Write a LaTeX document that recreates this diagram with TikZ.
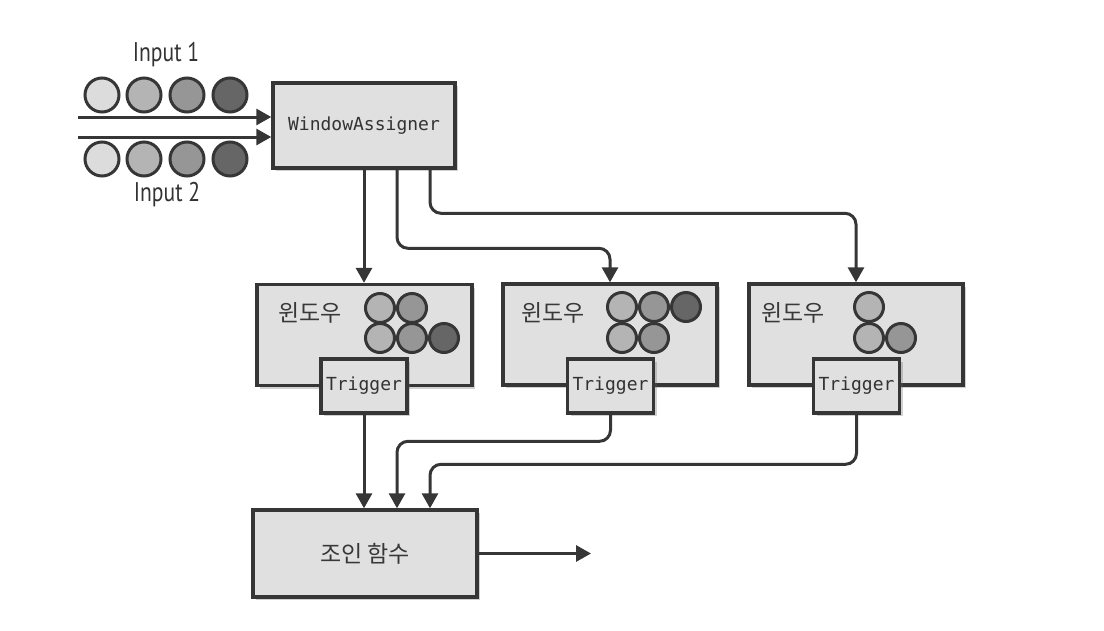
\documentclass[tikz,border=0pt]{standalone}
\usepackage{fontspec}
\setmainfont{PT Sans}
\newfontfamily\condfont[FakeStretch=0.8]{PT Sans}
\newfontfamily\monofont{DejaVu Sans Mono}
\newfontfamily\krfont{Noto Sans CJK KR}
\usetikzlibrary{arrows.meta,calc,shadows}
\definecolor{edge}{HTML}{363636}
\definecolor{boxfill}{HTML}{E0E0E0}
\definecolor{shA}{HTML}{DCDCDC}
\definecolor{shB}{HTML}{B4B4B4}
\definecolor{shC}{HTML}{969696}
\definecolor{shD}{HTML}{666666}
\tikzset{
  box/.style={draw=edge, fill=boxfill, line width=3.4pt, inner sep=0pt,
    drop shadow={shadow xshift=3pt, shadow yshift=-3pt, opacity=0.3, fill=black!60}},
  conn/.style={draw=edge, line width=3pt, rounded corners=11pt,
    -{Triangle[length=15pt,width=16pt]}},
  ball/.style={circle, draw=edge, line width=3pt, inner sep=0pt, minimum size=#1},
  ball/.default=34pt,
  lbl/.style={font=\condfont\fontsize{27}{30}\selectfont, text=black!80},
  mono/.style={font=\monofont\fontsize{18}{20}\selectfont, text=black!80},
  kr/.style={font=\krfont\fontsize{23}{26}\selectfont, text=black!78},
}
\begin{document}
\begin{tikzpicture}[x=1pt, y=-1pt]
\useasboundingbox (0,0) rectangle (1104,630);

% input streams
\node[lbl] (lab1) at (166,55) {Input 1};
\node[lbl] (lab2) at (167,195) {Input 2};
\foreach \cx/\col [count=\i] in {102/shA,144/shB,187/shC,230/shD}{
  \node[ball, fill=\col] (ia\i) at (\cx,95) {};
  \node[ball, fill=\col] (ib\i) at (\cx,159) {};
}

% WindowAssigner
\node[box, minimum width=182pt, minimum height=85pt, mono] (wa) at (364,125.5) {WindowAssigner};
\coordinate (in1) at (78,117);
\coordinate (in2) at (78,137);
\draw[conn] (in1) -- (in1 -| wa.west);
\draw[conn] (in2) -- (in2 -| wa.west);

% windows
\node[box, minimum width=215pt, minimum height=101pt] (win1) at (364.5,335) {};
\node[box, minimum width=214pt, minimum height=101pt] (win2) at (610,334.5) {};
\node[box, minimum width=214pt, minimum height=101pt] (win3) at (856,334.5) {};
\node[kr] (w1) at (310,313) {윈도우};
\node[kr] (w2) at (553,313) {윈도우};
\node[kr] (w3) at (793,313) {윈도우};

\tikzset{wb/.style={ball=29pt}}
% window 1 contents
\node[wb, fill=shB] (a1) at (380,308) {};
\node[wb, fill=shC] (a2) at (412,308) {};
\node[wb, fill=shB] (a3) at (380,338) {};
\node[wb, fill=shC] (a4) at (412,338) {};
\node[wb, fill=shD] (a5) at (444,338) {};
% window 2 contents
\node[wb, fill=shB] (b1) at (622,307) {};
\node[wb, fill=shC] (b2) at (654,307) {};
\node[wb, fill=shD] (b3) at (686,307) {};
\node[wb, fill=shB] (b4) at (622,338) {};
\node[wb, fill=shC] (b5) at (654,338) {};
% window 3 contents
\node[wb, fill=shB] (c1) at (869,307) {};
\node[wb, fill=shB] (c2) at (869,338) {};
\node[wb, fill=shC] (c3) at (901,338) {};

% triggers
\node[box, minimum width=86pt, minimum height=54pt, mono] (t1) at (364,386) {Trigger};
\node[box, minimum width=86pt, minimum height=54pt, mono] (t2) at (610.5,386) {Trigger};
\node[box, minimum width=86pt, minimum height=54pt, mono] (t3) at (856.5,386) {Trigger};

% join function
\node[box, minimum width=224pt, minimum height=87pt, kr] (join) at (365,553.5) {조인 함수};
\coordinate (out) at (591,553.5);

% routing from the assigner to the windows
\draw[conn] (wa.south) -- (wa.south |- win1.north);
\draw[conn] ($(wa.south)+(33,0)$) |- ($(win2.north)+(0,-34)$) -- (win2.north);
\draw[conn] ($(wa.south)+(66,0)$) |- ($(win3.north)+(0,-69)$) -- (win3.north);

% routing from the triggers to the join
\draw[conn] (t1.south) -- (t1.south |- join.north);
\draw[conn] (t2.south) |- ($(join.north)+(32,-67)$) -- ($(join.north)+(32,0)$);
\draw[conn] (t3.south) |- ($(join.north)+(65,-44)$) -- ($(join.north)+(65,0)$);

% output
\draw[conn] (join.east) -- (out);
\end{tikzpicture}
\end{document}
